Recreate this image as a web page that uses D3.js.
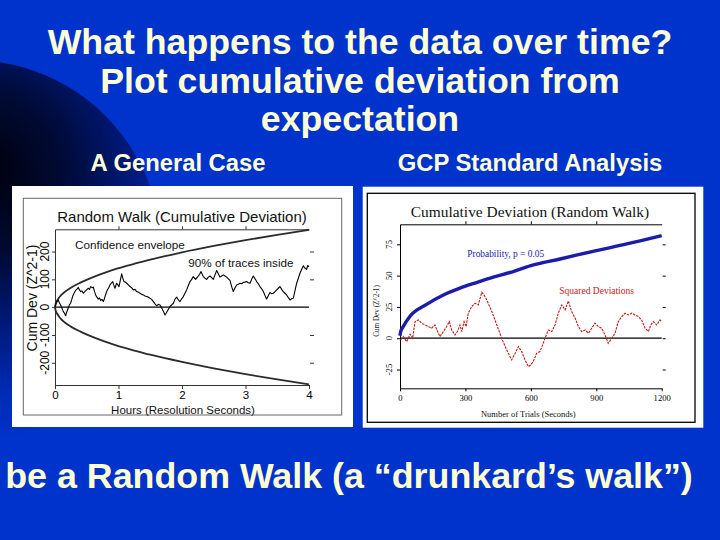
<!DOCTYPE html>
<html><head><meta charset="utf-8">
<script src="https://cdn.jsdelivr.net/npm/d3@7"></script>
<style>body{margin:0;background:#0033cc;} svg{display:block}</style>
</head><body><svg id="c" width="720" height="540"></svg>
<script>
// ---------- slide text ----------
const titleLines = ["What happens to the data over time?", "Plot cumulative deviation from", "expectation"];
const subtitles = ["A General Case", "GCP Standard Analysis"];
const footerText = "be a Random Walk (a \u201cdrunkard\u2019s walk\u201d)";

// ---------- left chart data ----------
const leftXTicks = [0, 1, 2, 3, 4];
const leftYTicks = [-200, -100, 0, 100, 200];
const envelopeHours = [0, 0.01, 0.03, 0.06, 0.1, 0.16, 0.25, 0.4, 0.6, 0.8, 1, 1.25, 1.5, 1.75, 2, 2.5, 3, 3.5, 4];
const envelopeUpper = [0, 12, 22, 33, 44, 56, 70, 88, 108, 125, 140, 156, 171, 184, 197, 220, 241, 260, 278];
const envelopeLower = [0, -12, -22, -33, -44, -56, -70, -88, -108, -125, -140, -156, -171, -184, -197, -220, -241, -260, -278];
const walkHours = [0,0.026,0.052,0.07,0.089,0.11,0.131,0.15,0.168,0.18,0.194,0.21,0.226,0.245,0.262,0.28,0.299,0.315,0.331,0.35,0.367,0.385,0.404,0.425,0.446,0.468,0.488,0.505,0.525,0.545,0.562,0.583,0.604,0.622,0.64,0.66,0.682,0.7,0.719,0.74,0.761,0.775,0.787,0.805,0.824,0.845,0.866,0.887,0.908,0.925,0.945,0.958,0.971,0.99,1.008,1.03,1.05,1.068,1.087,1.108,1.129,1.155,1.181,1.207,1.234,1.26,1.286,1.312,1.339,1.365,1.391,1.417,1.444,1.47,1.496,1.522,1.549,1.575,1.601,1.628,1.654,1.675,1.696,1.714,1.732,1.75,1.769,1.79,1.811,1.837,1.864,1.89,1.916,1.943,1.969,1.995,2.021,2.047,2.073,2.1,2.126,2.152,2.178,2.197,2.215,2.236,2.257,2.278,2.299,2.318,2.336,2.362,2.388,2.415,2.441,2.467,2.493,2.52,2.546,2.572,2.598,2.625,2.651,2.677,2.703,2.73,2.756,2.782,2.808,2.835,2.861,2.887,2.913,2.94,2.966,2.992,3.018,3.045,3.071,3.097,3.123,3.15,3.176,3.202,3.228,3.255,3.281,3.307,3.333,3.36,3.386,3.412,3.438,3.465,3.491,3.517,3.543,3.57,3.596,3.622,3.648,3.675,3.701,3.727,3.753,3.78,3.806,3.832,3.858,3.885,3.911,3.937,3.963,3.98,4.0];
const walkCumDev = [0,18,26,15,8,-4,-16,-22,-31,-20,-12,-2,8,14,26,40,50,56,62,66,71,62,56,58,50,56,60,64,68,64,74,70,72,56,44,36,29,33,24,28,20,28,38,50,62,70,80,86,92,80,68,78,86,80,74,98,120,104,92,90,86,80,74,70,62,64,56,54,50,46,44,40,38,36,32,28,20,12,5,10,8,0,-10,-18,-28,-22,-14,-6,2,8,14,29,36,26,20,30,38,50,62,78,92,100,110,104,100,106,112,118,128,118,110,104,100,108,112,106,100,116,132,120,108,112,116,112,108,102,96,74,56,70,80,82,86,84,89,90,92,88,86,100,112,102,92,84,74,66,56,42,29,42,53,48,50,56,62,68,74,64,56,50,44,34,26,30,32,60,86,104,122,136,149,140,136,150,145];

// ---------- right chart data ----------
const rightXTicks = [0, 300, 600, 900, 1200];
const rightYTicks = [-25, 0, 25, 50, 75];
const probSeconds = [0, 3, 15, 46, 122, 199, 275, 351, 428, 504, 600, 734, 900, 1040, 1200];
const probValues = [2, 5, 9.3, 17.5, 27, 34.5, 40, 44.5, 48.8, 52.5, 58, 63.3, 70, 75.3, 82];
const sqDevSeconds = [3,15,31,46,58,69,84,99,115,130,145,160,176,183,199,214,226,237,252,263,275,283,294,303,313,329,344,359,375,385,398,421,444,466,489,512,528,543,558,573,589,600,611,627,642,654,665,680,696,711,726,742,757,772,787,803,818,833,849,864,879,894,910,925,940,955,971,986,1001,1017,1032,1047,1063,1078,1093,1108,1124,1139,1150,1162,1177,1192,1200];
const sqDevValues = [-1.4,1.3,-2.7,3.2,0,13.3,14.6,12,10.6,9.3,8,10.6,4,1.3,5.3,9.3,13.3,6.6,2.6,5.3,10.6,5.3,13.3,9.3,20,25.3,28,26.6,36.7,34.6,30.6,21.3,10.6,0,-9.3,-17.3,-12,-6.7,-10.6,-17.3,-22.7,-21.3,-18.6,-12,-10.6,-5.3,0,6.6,5.3,10.6,20,26.6,22.6,29.8,21.3,16,9.3,5.3,6.6,4,8,12,9.3,8,2.6,-4,0,4,13.3,17.3,20,18.6,20,18.6,17.3,14.6,8,5.3,10.6,13.3,10.6,14.6,13.3];

// ---------- drawing ----------
const svg = d3.select("#c");
const SANS = "'Liberation Sans', Arial, Helvetica, sans-serif";
const SERIF = "'Liberation Serif', 'Times New Roman', serif";
const CREAM = "#ffffd5";

const defs = svg.append("defs");
const rg = defs.append("radialGradient").attr("id", "darkg")
  .attr("gradientUnits", "userSpaceOnUse").attr("cx", -20).attr("cy", 175).attr("r", 270);
[[0, "#000008"], [0.3, "#000a33"], [0.55, "#001878"], [0.8, "#002ab2"], [1, "#0033cc"]]
  .forEach(([o, c]) => rg.append("stop").attr("offset", o).attr("stop-color", c));

svg.append("rect").attr("width", 720).attr("height", 540).attr("fill", "#0033cc");
svg.append("circle").attr("cx", -29).attr("cy", 250).attr("r", 190).attr("fill", "url(#darkg)");

// titles
svg.selectAll("text.title").data(titleLines).enter().append("text")
  .attr("x", 360).attr("y", (d, i) => 54 + i * 38.5)
  .attr("text-anchor", "middle").attr("fill", CREAM)
  .style("font", `bold 35.7px ${SANS}`).text(d => d);
svg.selectAll("text.sub").data(subtitles).enter().append("text")
  .attr("x", (d, i) => i ? 530 : 178).attr("y", 171)
  .attr("text-anchor", "middle").attr("fill", CREAM)
  .style("font", `bold 23.8px ${SANS}`).text(d => d);
svg.append("text").attr("x", 349).attr("y", 488).attr("text-anchor", "middle")
  .attr("fill", CREAM).style("font", `bold 35.8px ${SANS}`).text(footerText);

// ---------- left chart ----------
const L = svg.append("g");
L.append("rect").attr("x", 12).attr("y", 186).attr("width", 341).attr("height", 241).attr("fill", "#fff");
L.append("rect").attr("x", 23.3).attr("y", 198.3).attr("width", 318.4).attr("height", 216.7)
  .attr("fill", "none").attr("stroke", "#666").attr("stroke-width", 1);

const lx = d3.scaleLinear().domain([0, 4]).range([55, 309]);
const ly = d3.scaleLinear().domain([-280, 280]).range([385, 229.3]);

function styleAxis(g, col, font) {
  g.selectAll("path,line").attr("stroke", col).attr("stroke-width", 1);
  g.selectAll("text").attr("fill", "#000").style("font", font);
}
const lb = L.append("g").attr("transform", `translate(0,${ly(-280)})`)
  .call(d3.axisBottom(lx).tickValues(leftXTicks).tickSize(4).tickSizeOuter(0).tickPadding(1.5).tickFormat(d3.format("d")));
styleAxis(lb, "#333", `11.5px ${SANS}`);
const lt = L.append("g").attr("transform", `translate(0,${ly(280)})`)
  .call(d3.axisTop(lx).tickValues([1, 2, 3]).tickSize(3).tickSizeOuter(0).tickFormat(""));
styleAxis(lt, "#333", `12px ${SANS}`);
const ll = L.append("g").attr("transform", `translate(${lx(0)},0)`)
  .call(d3.axisLeft(ly).tickValues(leftYTicks).tickSize(3).tickSizeOuter(0).tickFormat(""));
styleAxis(ll, "#333", `12px ${SANS}`);
const lr = L.append("g").attr("transform", `translate(${lx(4) + 1},0)`)
  .call(d3.axisRight(ly).tickValues([-200, -100, 100, 200]).tickSize(4).tickSizeOuter(0).tickFormat(""));
lr.select(".domain").remove();
styleAxis(lr, "#333", `12px ${SANS}`);

L.selectAll("text.ly").data(leftYTicks).enter().append("text")
  .attr("transform", d => `translate(45,${ly(d)}) rotate(-90)`)
  .attr("text-anchor", "middle").attr("dy", "0.36em")
  .style("font", `12px ${SANS}`).attr("fill", "#000").text(d => d);

L.append("line").attr("x1", lx(0)).attr("x2", lx(4)).attr("y1", ly(0)).attr("y2", ly(0))
  .attr("stroke", "#000").attr("stroke-width", 1.1);

const envLine = d3.line().x(d => lx(d[0])).y(d => ly(d[1])).curve(d3.curveMonotoneX);
L.append("path").attr("d", envLine(envelopeHours.map((h, i) => [h, envelopeUpper[i]])))
  .attr("fill", "none").attr("stroke", "#2b2b2b").attr("stroke-width", 1.8);
L.append("path").attr("d", envLine(envelopeHours.map((h, i) => [h, envelopeLower[i]])))
  .attr("fill", "none").attr("stroke", "#2b2b2b").attr("stroke-width", 1.8);

const walkLine = d3.line().x(d => lx(d[0])).y(d => ly(d[1]));
L.append("path").attr("d", walkLine(walkHours.map((h, i) => [h, walkCumDev[i]])))
  .attr("fill", "none").attr("stroke", "#000").attr("stroke-width", 1.1).attr("stroke-linejoin", "round");

L.append("text").attr("x", 182).attr("y", 221.7).attr("text-anchor", "middle")
  .style("font", `15px ${SANS}`).attr("fill", "#111").text("Random Walk (Cumulative Deviation)");
L.append("text").attr("x", 183).attr("y", 413.5).attr("text-anchor", "middle")
  .style("font", `11.5px ${SANS}`).attr("fill", "#111").text("Hours (Resolution Seconds)");
L.append("text").attr("transform", "translate(36.5,298) rotate(-90)").attr("text-anchor", "middle")
  .style("font", `14px ${SANS}`).attr("fill", "#111").text("Cum Dev (Z^2-1)");
L.append("text").attr("x", 75).attr("y", 249.3)
  .style("font", `11.7px ${SANS}`).attr("fill", "#111").text("Confidence envelope");
L.append("text").attr("x", 188.3).attr("y", 266.7)
  .style("font", `11.7px ${SANS}`).attr("fill", "#111").text("90% of traces inside");

// ---------- right chart ----------
const R = svg.append("g");
R.append("rect").attr("x", 362.7).attr("y", 186.7).attr("width", 340.6).attr("height", 241).attr("fill", "#fff");
R.append("rect").attr("x", 367.3).attr("y", 193.3).attr("width", 327.7).attr("height", 229)
  .attr("fill", "none").attr("stroke", "#000").attr("stroke-width", 1.3);

const rx = d3.scaleLinear().domain([0, 1200]).range([400, 661.7]);
const ry = d3.scaleLinear().domain([-40, 91]).range([388.3, 224.3]);

const rb = R.append("g").attr("transform", `translate(0,${ry(-40)})`)
  .call(d3.axisBottom(rx).tickValues(rightXTicks).tickSize(3).tickSizeOuter(0).tickPadding(4).tickFormat(d3.format("d")));
styleAxis(rb, "#000", `8.6px ${SERIF}`);
const rt = R.append("g").attr("transform", `translate(0,${ry(91)})`)
  .call(d3.axisTop(rx).tickValues([300, 600, 900]).tickSize(3).tickSizeOuter(0).tickFormat(""));
styleAxis(rt, "#000", `8.6px ${SERIF}`);
const rl = R.append("g").attr("transform", `translate(${rx(0)},0)`)
  .call(d3.axisLeft(ry).tickValues(rightYTicks).tickSize(3).tickSizeOuter(0).tickFormat(""));
styleAxis(rl, "#000", `8.6px ${SERIF}`);
const rr = R.append("g").attr("transform", `translate(${rx(1200) + 1},0)`)
  .call(d3.axisRight(ry).tickValues(rightYTicks).tickSize(3).tickSizeOuter(0).tickFormat(""));
rr.select(".domain").remove();
styleAxis(rr, "#000", `8.6px ${SERIF}`);

R.selectAll("text.ry").data(rightYTicks).enter().append("text")
  .attr("transform", d => `translate(389.3,${ry(d)}) rotate(-90)`)
  .attr("text-anchor", "middle").attr("dy", "0.36em")
  .style("font", `8.6px ${SERIF}`).attr("fill", "#000").text(d => d);

R.append("line").attr("x1", rx(0)).attr("x2", rx(1200)).attr("y1", ry(0)).attr("y2", ry(0))
  .attr("stroke", "#000").attr("stroke-width", 1.2);

const rline = d3.line().x(d => rx(d[0])).y(d => ry(d[1]));
R.append("path").attr("d", rline.curve(d3.curveMonotoneX)(probSeconds.map((s, i) => [s, probValues[i]])))
  .attr("fill", "none").attr("stroke", "#1c1caa").attr("stroke-width", 3.4);
R.append("path").attr("d", d3.line().x(d => rx(d[0])).y(d => ry(d[1]))(sqDevSeconds.map((s, i) => [s, sqDevValues[i]])))
  .attr("fill", "none").attr("stroke", "#c21a1a").attr("stroke-width", 1.1).attr("stroke-dasharray", "2.5 1");

R.append("text").attr("x", 530).attr("y", 216.7).attr("text-anchor", "middle")
  .style("font", `15.4px ${SERIF}`).attr("fill", "#111").text("Cumulative Deviation (Random Walk)");
R.append("text").attr("x", 528.3).attr("y", 417.3).attr("text-anchor", "middle")
  .style("font", `8.5px ${SERIF}`).attr("fill", "#111").text("Number of Trials (Seconds)");
R.append("text").attr("transform", "translate(379,311) rotate(-90)").attr("text-anchor", "middle")
  .style("font", `7.2px ${SERIF}`).attr("fill", "#111").text("Cum Dev (Z^2-1)");
R.append("text").attr("x", 467.3).attr("y", 256.7)
  .style("font", `9.4px ${SERIF}`).attr("fill", "#2020a8").text("Probability, p = 0.05");
R.append("text").attr("x", 559.3).attr("y", 294.3)
  .style("font", `9.5px ${SERIF}`).attr("fill", "#c42020").text("Squared Deviations");
</script></body></html>
